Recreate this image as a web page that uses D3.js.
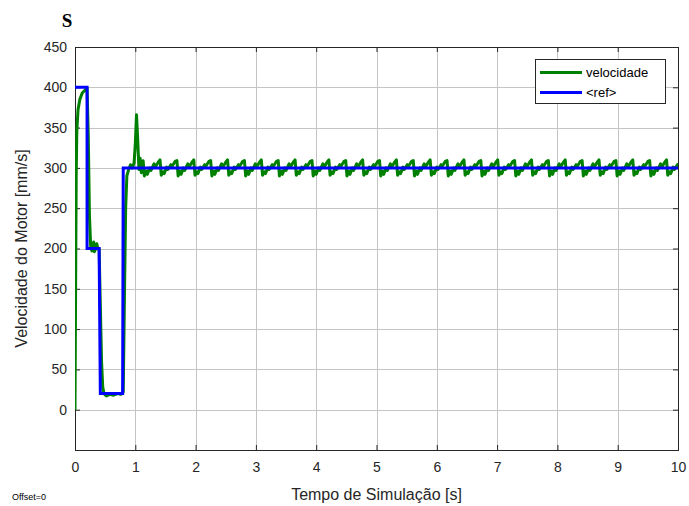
<!DOCTYPE html>
<html>
<head>
<meta charset="utf-8">
<script src="https://cdn.jsdelivr.net/npm/d3@7"></script>
<style>
  body { margin: 0; background: #fff; }
  svg { display: block; font-family: "Liberation Sans", Arial, sans-serif; }
  .grid line { stroke: #c4c4c4; stroke-width: 1; }
  .axis text { fill: #262626; font-size: 14px; }
  .axis path, .axis line { stroke: #262626; }
</style>
</head>
<body>
<script>
// tick values
var xTicks = [0,1,2,3,4,5,6,7,8,9,10];
var yTicks = [0,50,100,150,200,250,300,350,400,450];

// reference signal [t, mm/s]
var ref = [[0,400],[0.2,400],[0.2,200],[0.4,200],[0.42,20],[0.79,20],[0.8,300],[10,300]];

// measured motor speed [t, mm/s]
var velocidade = [
  [0,0],[0.01,150],[0.02,290],[0.03,345],[0.05,372],[0.08,385],[0.12,393],[0.16,396],[0.2,399],
  [0.22,340],[0.24,240],[0.26,203],[0.28,197],[0.3,203],[0.31,208],[0.32,196],[0.34,199],[0.36,206],[0.38,200],[0.4,200],
  [0.42,130],[0.44,60],[0.46,28],[0.48,20],[0.52,17],[0.58,19],[0.64,18],[0.7,20],[0.76,19],[0.8,22],
  [0.82,140],[0.84,250],[0.86,290],[0.89,298],[0.92,304],[0.95,300],[0.98,306],[1.0,330],[1.02,366],[1.04,335],[1.06,298],[1.08,312],[1.1,294],
  [1.13,309],[1.15,290],[1.18,296],[1.20,292],[1.24,300],[1.26,297],[1.31,305],[1.33,301],[1.38,307],
  [1.41,310],[1.43,291],[1.46,295],[1.48,293],[1.52,301],[1.54,298],[1.59,304],[1.61,302],[1.66,308],
  [1.69,309],[1.71,290],[1.74,296],[1.76,292],[1.80,300],[1.82,297],[1.87,305],[1.89,301],[1.94,307],
  [1.97,310],[1.99,291],[2.02,295],[2.04,293],[2.08,301],[2.10,298],[2.15,304],[2.17,302],[2.22,308],
  [2.25,309],[2.27,290],[2.30,296],[2.32,292],[2.36,300],[2.38,297],[2.43,305],[2.45,301],[2.50,307],
  [2.53,310],[2.55,291],[2.58,295],[2.60,293],[2.64,301],[2.66,298],[2.71,304],[2.73,302],[2.78,308],
  [2.81,309],[2.83,290],[2.86,296],[2.88,292],[2.92,300],[2.94,297],[2.99,305],[3.01,301],[3.06,307],
  [3.09,310],[3.11,291],[3.14,295],[3.16,293],[3.20,301],[3.22,298],[3.27,304],[3.29,302],[3.34,308],
  [3.37,309],[3.39,290],[3.42,296],[3.44,292],[3.48,300],[3.50,297],[3.55,305],[3.57,301],[3.62,307],
  [3.65,310],[3.67,291],[3.70,295],[3.72,293],[3.76,301],[3.78,298],[3.83,304],[3.85,302],[3.90,308],
  [3.93,309],[3.95,290],[3.98,296],[4.00,292],[4.04,300],[4.06,297],[4.11,305],[4.13,301],[4.18,307],
  [4.21,310],[4.23,291],[4.26,295],[4.28,293],[4.32,301],[4.34,298],[4.39,304],[4.41,302],[4.46,308],
  [4.49,309],[4.51,290],[4.54,296],[4.56,292],[4.60,300],[4.62,297],[4.67,305],[4.69,301],[4.74,307],
  [4.77,310],[4.79,291],[4.82,295],[4.84,293],[4.88,301],[4.90,298],[4.95,304],[4.97,302],[5.02,308],
  [5.05,309],[5.07,290],[5.10,296],[5.12,292],[5.16,300],[5.18,297],[5.23,305],[5.25,301],[5.30,307],
  [5.33,310],[5.35,291],[5.38,295],[5.40,293],[5.44,301],[5.46,298],[5.51,304],[5.53,302],[5.58,308],
  [5.61,309],[5.63,290],[5.66,296],[5.68,292],[5.72,300],[5.74,297],[5.79,305],[5.81,301],[5.86,307],
  [5.89,310],[5.91,291],[5.94,295],[5.96,293],[6.00,301],[6.02,298],[6.07,304],[6.09,302],[6.14,308],
  [6.17,309],[6.19,290],[6.22,296],[6.24,292],[6.28,300],[6.30,297],[6.35,305],[6.37,301],[6.42,307],
  [6.45,310],[6.47,291],[6.50,295],[6.52,293],[6.56,301],[6.58,298],[6.63,304],[6.65,302],[6.70,308],
  [6.73,309],[6.75,290],[6.78,296],[6.80,292],[6.84,300],[6.86,297],[6.91,305],[6.93,301],[6.98,307],
  [7.01,310],[7.03,291],[7.06,295],[7.08,293],[7.12,301],[7.14,298],[7.19,304],[7.21,302],[7.26,308],
  [7.29,309],[7.31,290],[7.34,296],[7.36,292],[7.40,300],[7.42,297],[7.47,305],[7.49,301],[7.54,307],
  [7.57,310],[7.59,291],[7.62,295],[7.64,293],[7.68,301],[7.70,298],[7.75,304],[7.77,302],[7.82,308],
  [7.85,309],[7.87,290],[7.90,296],[7.92,292],[7.96,300],[7.98,297],[8.03,305],[8.05,301],[8.10,307],
  [8.13,310],[8.15,291],[8.18,295],[8.20,293],[8.24,301],[8.26,298],[8.31,304],[8.33,302],[8.38,308],
  [8.41,309],[8.43,290],[8.46,296],[8.48,292],[8.52,300],[8.54,297],[8.59,305],[8.61,301],[8.66,307],
  [8.69,310],[8.71,291],[8.74,295],[8.76,293],[8.80,301],[8.82,298],[8.87,304],[8.89,302],[8.94,308],
  [8.97,309],[8.99,290],[9.02,296],[9.04,292],[9.08,300],[9.10,297],[9.15,305],[9.17,301],[9.22,307],
  [9.25,310],[9.27,291],[9.30,295],[9.32,293],[9.36,301],[9.38,298],[9.43,304],[9.45,302],[9.50,308],
  [9.53,309],[9.55,290],[9.58,296],[9.60,292],[9.64,300],[9.66,297],[9.71,305],[9.73,301],[9.78,307],
  [9.81,310],[9.83,291],[9.86,295],[9.88,293],[9.92,301],[9.94,298],[9.99,304],[10,303]
];

var W = 689, H = 506;
var margin = {top: 47, right: 11, bottom: 56, left: 75};
var width = W - margin.left - margin.right,
    height = H - margin.top - margin.bottom;

var x = d3.scaleLinear().domain([0, 10]).range([0, width]);
var y = d3.scaleLinear().domain([-50, 450]).range([height, 0]);

var svg = d3.select("body").append("svg")
    .attr("width", W)
    .attr("height", H);

var g = svg.append("g")
    .attr("transform", "translate(" + margin.left + "," + margin.top + ")");

g.append("defs").append("clipPath").attr("id", "clip")
  .append("rect").attr("width", width).attr("height", height);

// grid
g.append("g").attr("class", "grid")
  .selectAll("line").data(xTicks).enter().append("line")
    .attr("x1", function(d) { return Math.round(x(d)) + 0.5; })
    .attr("x2", function(d) { return Math.round(x(d)) + 0.5; })
    .attr("y1", 0).attr("y2", height);
g.append("g").attr("class", "grid")
  .selectAll("line").data(yTicks).enter().append("line")
    .attr("y1", function(d) { return Math.round(y(d)) + 0.5; })
    .attr("y2", function(d) { return Math.round(y(d)) + 0.5; })
    .attr("x1", 0).attr("x2", width);

// axes (inward ticks like matlab)
g.append("g").attr("class", "axis")
    .attr("transform", "translate(0," + height + ")")
    .call(d3.axisBottom(x).tickValues(xTicks).tickSizeInner(-5).tickSizeOuter(0).tickPadding(12));
g.append("g").attr("class", "axis")
    .call(d3.axisLeft(y).tickValues(yTicks).tickSizeInner(-5).tickSizeOuter(0).tickPadding(8));
g.append("g").attr("class", "axis")
    .call(d3.axisTop(x).tickValues(xTicks).tickSizeInner(-5).tickSizeOuter(0).tickFormat(""));
g.append("g").attr("class", "axis")
    .attr("transform", "translate(" + width + ",0)")
    .call(d3.axisRight(y).tickValues(yTicks).tickSizeInner(-5).tickSizeOuter(0).tickFormat(""));
g.selectAll(".axis .domain").remove();
g.append("rect")
    .attr("x", 0.5).attr("y", 0.5)
    .attr("width", width).attr("height", height)
    .attr("fill", "none").attr("stroke", "#262626");

// lines
var line = d3.line()
    .x(function(d) { return x(d[0]); })
    .y(function(d) { return y(d[1]); });

var plot = g.append("g").attr("clip-path", "url(#clip)");
plot.append("path")
    .attr("d", line(velocidade))
    .attr("fill", "none")
    .attr("stroke", "#008000")
    .attr("stroke-width", 3)
    .attr("stroke-linejoin", "round");
plot.append("path")
    .attr("d", line(ref))
    .attr("fill", "none")
    .attr("stroke", "#0000ff")
    .attr("stroke-width", 3);

// legend
var leg = svg.append("g").attr("transform", "translate(535,59)");
leg.append("rect").attr("x", 0.5).attr("y", 0.5).attr("width", 130).attr("height", 44)
    .attr("fill", "#fff").attr("stroke", "#262626");
var items = [["velocidade", "#008000"], ["<ref>", "#0000ff"]];
items.forEach(function(it, i) {
  var yy = 13.5 + i * 20;
  leg.append("line").attr("x1", 5).attr("x2", 47).attr("y1", yy).attr("y2", yy)
    .attr("stroke", it[1]).attr("stroke-width", 3);
  leg.append("text").attr("x", 51).attr("y", yy + 4.5)
    .attr("font-size", "13px").attr("fill", "#000").text(it[0]);
});

// labels
svg.append("text")
    .attr("x", 67).attr("y", 27)
    .attr("text-anchor", "middle")
    .attr("font-family", "'Liberation Serif', 'Times New Roman', serif")
    .attr("font-weight", "bold")
    .attr("font-size", "19px")
    .text("S");
svg.append("text")
    .attr("x", margin.left + width / 2).attr("y", 500)
    .attr("text-anchor", "middle")
    .attr("font-size", "16px").attr("fill", "#262626")
    .text("Tempo de Simulação [s]");
svg.append("text")
    .attr("transform", "translate(27," + (margin.top + height / 2) + ") rotate(-90)")
    .attr("text-anchor", "middle")
    .attr("font-size", "16px").attr("fill", "#262626")
    .text("Velocidade do Motor [mm/s]");
svg.append("text")
    .attr("x", 12).attr("y", 500)
    .attr("font-size", "9px").attr("fill", "#000")
    .text("Offset=0");
</script>
</body>
</html>
